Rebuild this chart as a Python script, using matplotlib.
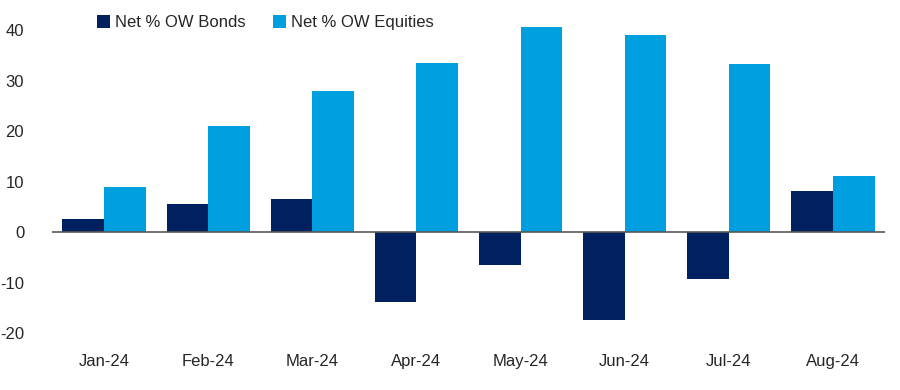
import numpy as np
import matplotlib
matplotlib.use("Agg")
import matplotlib.pyplot as plt

plt.rcParams['font.family'] = ['Liberation Sans', 'DejaVu Sans']
plt.rcParams['axes.unicode_minus'] = False

months = ['Jan-24', 'Feb-24', 'Mar-24', 'Apr-24', 'May-24', 'Jun-24', 'Jul-24', 'Aug-24']
bonds = [2.6, 5.5, 6.5, -13.9, -6.5, -17.4, -9.3, 8.1]
equities = [8.9, 21.0, 27.9, 33.5, 40.6, 39.0, 33.3, 11.1]
yticks = [-20, -10, 0, 10, 20, 30, 40]

fig = plt.figure(figsize=(9, 3.9), dpi=100)
ax = fig.add_axes([52 / 900, 57 / 390, 833 / 900, 308 / 390])

x = np.arange(len(months))
w = 0.4
ax.bar(x - w / 2, bonds, w, color='#002060', label='Net % OW Bonds')
ax.bar(x + w / 2, equities, w, color='#009FDF', label='Net % OW Equities')

ax.axhline(0, color='#595959', linewidth=1.2, zorder=3)
ax.set_xlim(-0.5, len(months) - 0.5)
ax.set_ylim(-20, 41)
ax.set_yticks(yticks)
ax.set_xticks(x)
ax.set_xticklabels(months)
ax.tick_params(axis='both', length=0, labelsize=12, colors='#262626')
ax.tick_params(axis='x', pad=15)
ax.tick_params(axis='y', pad=20)
for s in ax.spines.values():
    s.set_visible(False)

fig.legend(loc='upper left', bbox_to_anchor=(82 / 900, 1 - 0 / 390), ncol=2, frameon=False,
           fontsize=12, handlelength=0.8, handleheight=0.8, handletextpad=0.3,
           columnspacing=1.6, labelcolor='#262626')

fig.savefig('out.png', dpi=100)
